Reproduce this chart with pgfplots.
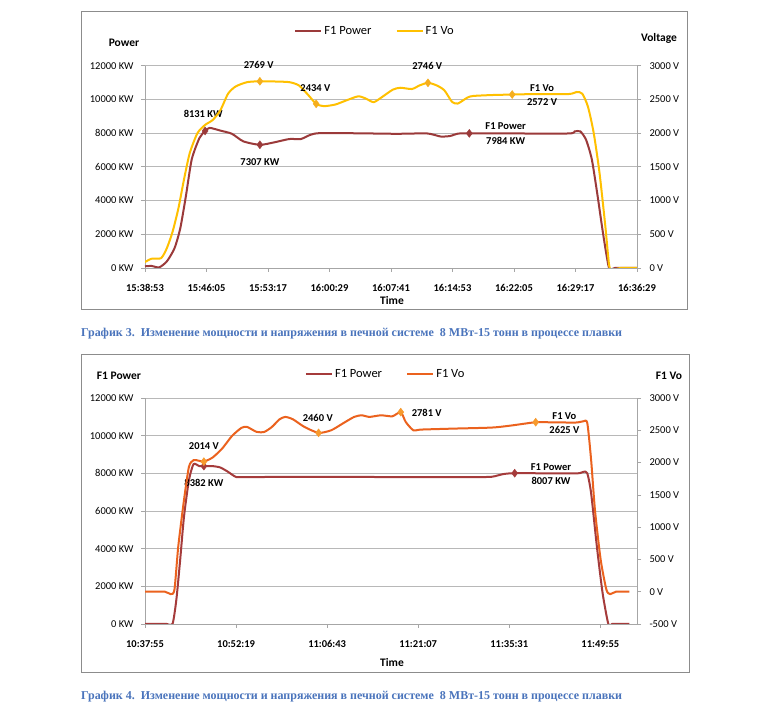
\documentclass[border=0pt]{standalone}
\usepackage{pgfplots}
\pgfplotsset{compat=1.18}
\usepackage{graphicx}
\usepackage{fontspec}
\setmainfont{Carlito}
\newfontfamily\capfont{Liberation Serif}
\definecolor{topP}{HTML}{9B3A3A}
\definecolor{topV}{HTML}{FFC000}
\definecolor{topVm}{HTML}{F5AE1E}
\definecolor{botP}{HTML}{A53B3B}
\definecolor{botV}{HTML}{EB621E}
\definecolor{botVm}{HTML}{F79A2E}
\definecolor{capblue}{HTML}{4A74BC}
\definecolor{axgray}{HTML}{A6A6A6}
\definecolor{frgray}{HTML}{8C8C8C}
\newcommand{\tk}{\fontsize{10.5}{12}\selectfont}
\newcommand{\dl}{\bfseries\fontsize{10.5}{12}\selectfont}
\pgfplotsset{
  base/.style={
    scale only axis, width=492pt,
    tick align=outside, major tick length=4pt,
    axis line style={-, draw=axgray, line width=0.7pt},
    tick style={draw=axgray, line width=0.7pt},
    clip mode=individual, scaled ticks=false,
    xticklabel style={font=\dl, yshift=-9pt},
  },
  leftax/.style={base, axis x line*=bottom, axis y line*=left,
    yticklabel style={font=\tk, xshift=-4pt},
    ymajorgrids, grid style={draw=axgray!80, line width=0.7pt},
    ymin=0, ymax=12000, ytick={0,2000,4000,6000,8000,10000,12000},
    yticklabels={0 KW,2000 KW,4000 KW,6000 KW,8000 KW,10000 KW,12000 KW}},
  rightax/.style={base, axis y line*=right, axis x line=none,
    yticklabel style={font=\tk, xshift=5pt},
    legend style={draw=none, fill=none, font=\fontsize{12.5}{14}\selectfont, legend columns=2,
      anchor=center, /tikz/every even column/.append style={column sep=22pt}},
    legend image code/.code={\draw[#1, line width=2.2pt] (0pt,0pt) -- (26pt,0pt);}},
}
\begin{document}
\begin{tikzpicture}[x=1pt,y=1pt]
\path[use as bounding box] (0,0) rectangle (764,712);
\fill[white] (0,0) rectangle (764,712);
\draw[frgray, line width=0.8pt] (81,700.3) rectangle (687,403);
\draw[frgray, line width=0.8pt] (81,358) rectangle (689,40);

% ---------------- top chart ----------------
\begin{axis}[leftax, at={(145pt,444pt)}, anchor=south west, height=202.3pt,
  xmin=0, xmax=57.6, xtick={0,7.2,14.4,21.6,28.8,36,43.2,50.4,57.6},
  xticklabels={15:38:53,15:46:05,15:53:17,16:00:29,16:07:41,16:14:53,16:22:05,16:29:17,16:36:29}]
\addplot[topP, line width=2pt, smooth, tension=0.4] coordinates {
(0,100) (0.762,120) (1.659,40) (2.555,390) (3.452,1170) (4.124,2340) (4.796,4290)
(5.469,6440) (6.365,7700) (7.038,8131) (7.575,8310) (8.831,8150) (10.175,7960)
(11.520,7510) (13.448,7307) (15.106,7450) (16.899,7650) (18.244,7650) (19.364,7900)
(20.485,8000) (24.968,7990) (29.450,7960) (33.036,7980) (34.605,7800) (35.726,7830)
(36.622,7970) (37.967,7984) (42.898,7980) (49.622,7980) (50.294,8100) (50.966,8100)
(51.638,7600) (52.311,6440) (52.983,4290) (53.655,1950) (54.328,0) (55.0,0) (57.6,0)};
\addplot[only marks, mark=diamond*, mark size=4pt, color=topP, forget plot] coordinates {
(7.038,8131) (13.448,7307) (37.967,7984)};
\node[font=\dl] at (axis cs:6.81,9112) {8131 KW};
\node[font=\dl] at (axis cs:13.45,6283) {7307 KW};
\node[font=\dl] at (axis cs:42.22,8390) {F1 Power};
\node[font=\dl] at (axis cs:42.22,7551) {7984 KW};
\end{axis}
\begin{axis}[rightax, at={(145pt,444pt)}, anchor=south west, height=202.3pt,
  xmin=0, xmax=57.6, ymin=0, ymax=3000, ytick={0,500,1000,1500,2000,2500,3000},
  yticklabels={0 V,500 V,1000 V,1500 V,2000 V,2500 V,3000 V},
  legend style={at={(0.4675,1.1715)}}]
\addlegendimage{draw=topP}
\addlegendentry{F1 Power}
\addplot[topV, line width=2pt, smooth, tension=0.4] coordinates {
(0,88) (0.762,137) (1.883,146) (2.555,293) (3.227,537) (3.900,878) (4.572,1317)
(5.245,1707) (6.141,2000) (7.038,2122) (7.934,2195) (8.831,2341) (9.727,2585)
(10.624,2693) (11.968,2756) (13.448,2769) (15.106,2766) (16.899,2756) (18.020,2707)
(19.140,2561) (20.037,2434) (20.933,2400) (22.278,2424) (23.623,2488) (24.968,2546)
(25.864,2512) (26.761,2459) (27.657,2527) (29.002,2644) (29.898,2673) (31.243,2654)
(32.140,2707) (33.126,2746) (34.157,2707) (35.053,2634) (35.950,2463) (36.622,2439)
(37.743,2527) (38.415,2551) (40.656,2565) (42.987,2572) (45.139,2578) (49.622,2580)
(50.518,2610) (51.191,2585) (51.863,2390) (52.535,2000) (53.207,1415) (53.880,634)
(54.328,49) (54.642,-30) (55.673,0) (57.6,0)};
\addlegendentry{F1 Vo}
\addplot[only marks, mark=diamond*, mark size=4pt, color=topVm, forget plot] coordinates {
(13.448,2769) (20.037,2434) (33.126,2746) (42.987,2572)};
\node[font=\dl] at (axis cs:13.31,3010) {2769 V};
\node[font=\dl] at (axis cs:19.95,2668) {2434 V};
\node[font=\dl] at (axis cs:33.04,2990) {2746 V};
\node[font=\dl] at (axis cs:46.48,2668) {F1 Vo};
\node[font=\dl] at (axis cs:46.48,2454) {2572 V};
\end{axis}
\node[font=\bfseries\fontsize{11.5}{13}\selectfont] at (124,669) {Power};
\node[font=\bfseries\fontsize{11.5}{13}\selectfont] at (659,674) {Voltage};
\node[font=\bfseries\fontsize{11.5}{13}\selectfont] at (392,411) {Time};

% ---------------- bottom chart ----------------
\begin{axis}[leftax, at={(145pt,88pt)}, anchor=south west, height=226pt,
  xmin=0, xmax=77.8, xtick={0,14.4,28.8,43.2,57.6,72},
  xticklabels={10:37:55,10:52:19,11:06:43,11:21:07,11:35:31,11:49:55}]
\addplot[botP, line width=2pt, smooth, tension=0.4] coordinates {
(0,0) (3.446,0) (4.353,0) (4.957,1288) (5.562,3406) (6.166,5700) (6.952,7640)
(7.678,8488) (8.584,8382) (9.310,8382) (10.700,8382) (11.909,8310) (13.118,8082)
(14.327,7818) (15.536,7800) (27.627,7818) (39.718,7800) (51.808,7800) (54.831,7818)
(56.644,7959) (58.458,8007) (63.899,8000) (68.433,8000) (69.340,8082) (69.944,8000)
(70.549,6935) (71.456,4112) (72.362,1641) (73.269,0) (73.874,0) (74.780,0) (76.594,0)};
\addplot[only marks, mark=diamond*, mark size=4pt, color=botP, forget plot] coordinates {
(9.310,8382) (58.458,8007)};
\node[font=\dl] at (axis cs:9.31,7465) {8382 KW};
\node[font=\dl] at (axis cs:64.2,8347) {F1 Power};
\node[font=\dl] at (axis cs:64.2,7588) {8007 KW};
\end{axis}
\begin{axis}[rightax, at={(145pt,88pt)}, anchor=south west, height=226pt,
  xmin=0, xmax=77.8, ymin=-500, ymax=3000, ytick={-500,0,500,1000,1500,2000,2500,3000},
  yticklabels={-500 V,0 V,500 V,1000 V,1500 V,2000 V,2500 V,3000 V},
  legend style={at={(0.489,1.106)}}]
\addlegendimage{draw=botP}
\addlegendentry{F1 Power}
\addplot[botV, line width=2pt, smooth, tension=0.4] coordinates {
(0,0) (3.144,0) (4.050,-37) (4.655,30) (5.259,699) (6.166,1420) (6.952,1935)
(7.678,2037) (8.584,2027) (9.310,2014) (10.700,2079) (12.212,2218) (13.723,2408)
(15.234,2537) (16.141,2552) (17.652,2475) (18.861,2475) (20.070,2552) (21.279,2670)
(22.186,2707) (23.395,2670) (25.209,2552) (27.446,2460) (29.441,2500) (31.254,2604)
(33.068,2707) (34.277,2732) (35.486,2707) (37.299,2732) (39.113,2717) (40.443,2781)
(41.229,2629) (42.438,2500) (43.647,2511) (48.786,2526) (54.831,2542) (57.853,2573)
(61.783,2625) (63.899,2624) (68.130,2620) (69.340,2640) (69.944,2610) (70.549,2037)
(71.153,1265) (72.060,493) (72.967,30) (73.571,-37) (74.478,0) (76.594,0)};
\addlegendentry{F1 Vo}
\addplot[only marks, mark=diamond*, mark size=4pt, color=botVm, forget plot] coordinates {
(9.310,2014) (27.446,2460) (40.443,2781) (61.783,2625)};
\node[font=\dl] at (axis cs:9.31,2254) {2014 V};
\node[font=\dl] at (axis cs:27.32,2691) {2460 V};
\node[font=\dl] at (axis cs:44.55,2773) {2781 V};
\node[font=\dl] at (axis cs:66.32,2722) {F1 Vo};
\node[font=\dl] at (axis cs:66.32,2501) {2625 V};
\end{axis}
\node[font=\bfseries\fontsize{11.5}{13}\selectfont] at (119,336.3) {F1 Power};
\node[font=\bfseries\fontsize{11.5}{13}\selectfont] at (669,336.3) {F1 Vo};
\node[font=\bfseries\fontsize{11.5}{13}\selectfont] at (392,49) {Time};

% ---------------- captions ----------------
\node[anchor=west, inner sep=0pt, text=capblue] at (81,378) {\resizebox{541pt}{\height}{\capfont\bfseries\fontsize{12}{14}\selectfont График 3.\ \ Изменение мощности и напряжения в печной системе\ \ 8 МВт-15 тонн в процессе плавки}};
\node[anchor=west, inner sep=0pt, text=capblue] at (81,15) {\resizebox{541pt}{\height}{\capfont\bfseries\fontsize{12}{14}\selectfont График 4.\ \ Изменение мощности и напряжения в печной системе\ \ 8 МВт-15 тонн в процессе плавки}};
\end{tikzpicture}
\end{document}
